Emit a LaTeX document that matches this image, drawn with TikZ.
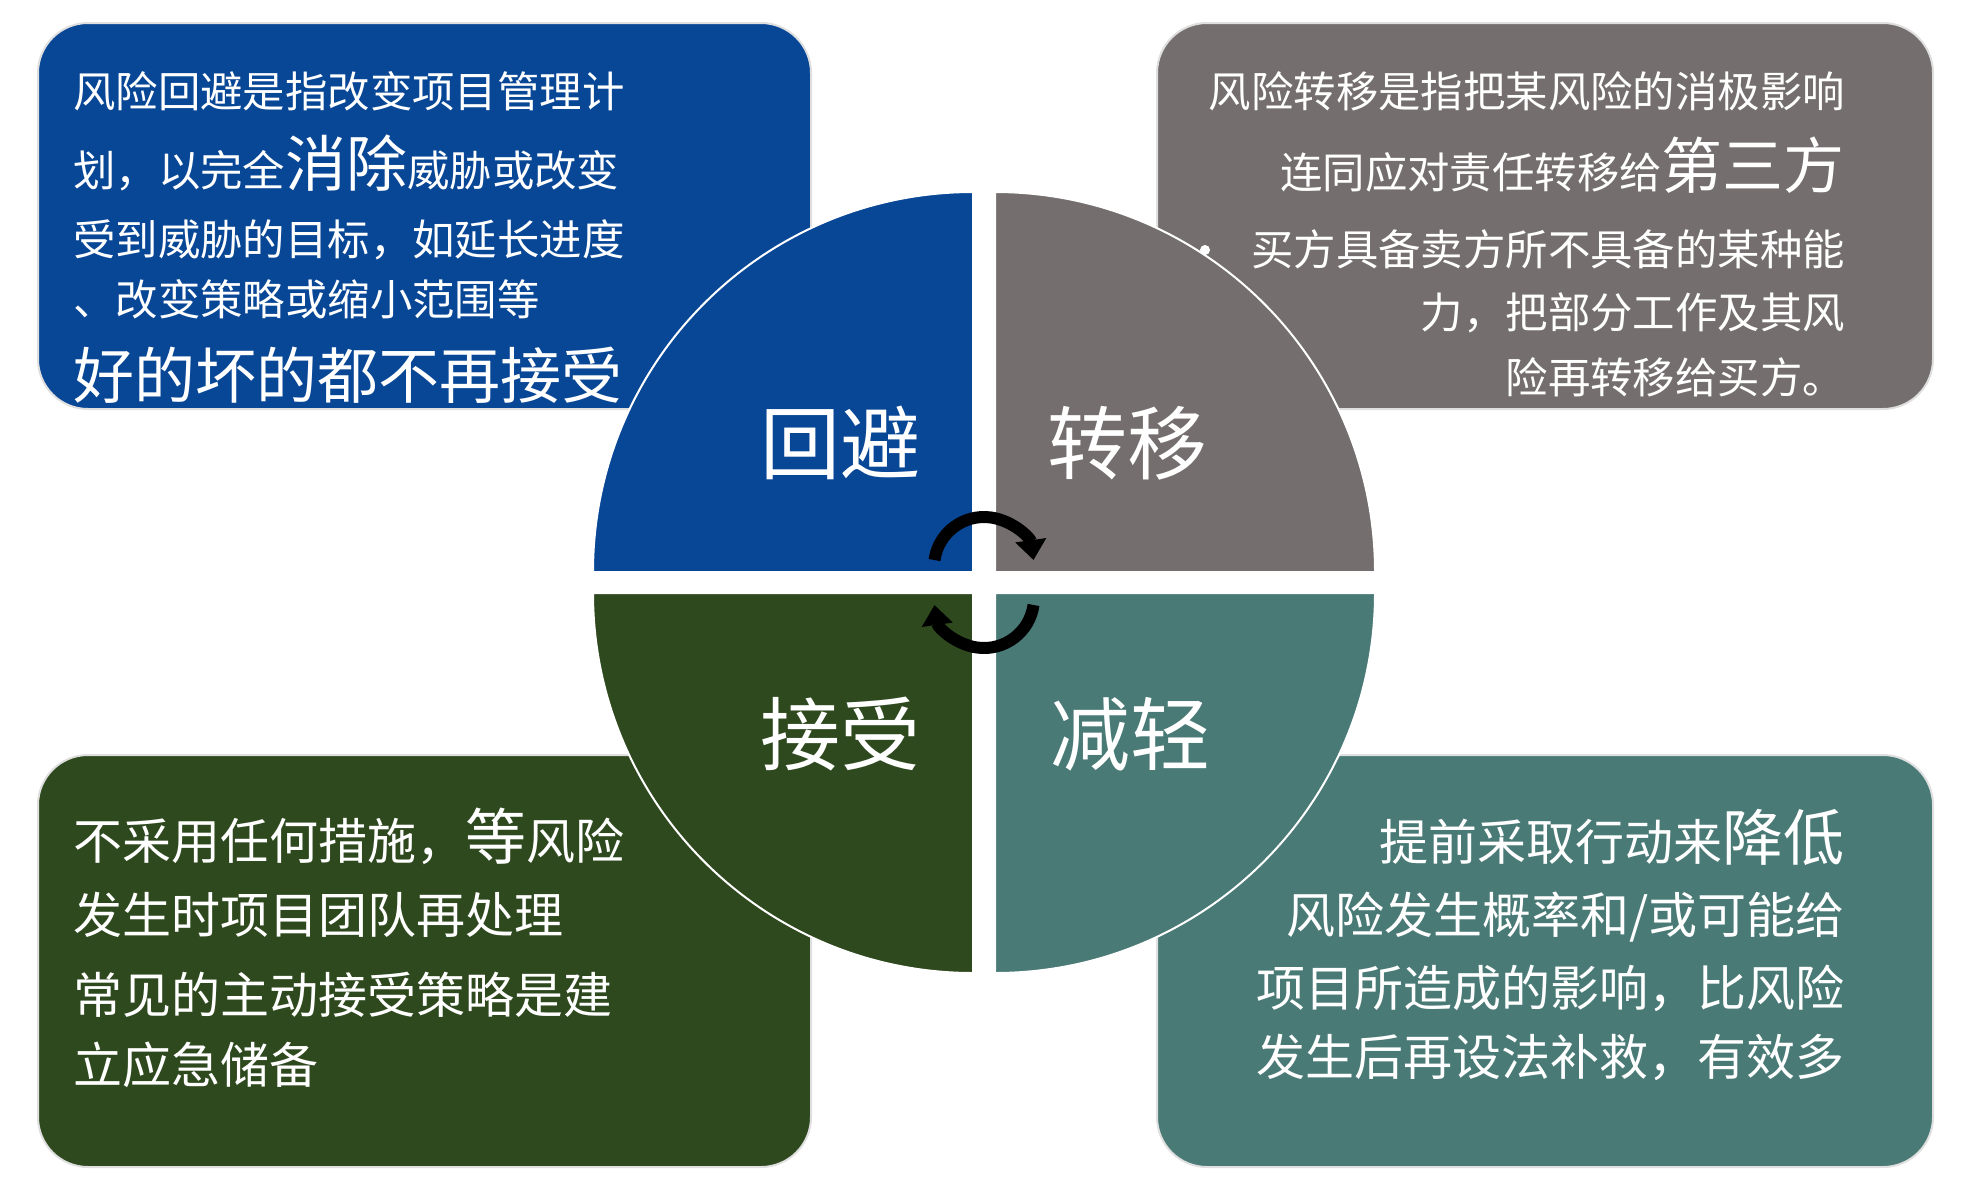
\documentclass[tikz,border=0pt]{standalone}
\usepackage{fontspec}
\setmainfont{Noto Sans CJK SC}
\usepackage{tikz}
\usetikzlibrary{arrows.meta}
\definecolor{avd}{RGB}{8,70,150}
\definecolor{trf}{RGB}{116,110,110}
\definecolor{acc}{RGB}{47,73,31}
\definecolor{mit}{RGB}{73,122,118}
\newcommand\szn{\fontsize{42.4}{50}\selectfont}
\newcommand\szm{\fontsize{49}{58}\selectfont}
\newcommand\szb{\fontsize{61}{70}\selectfont}
\newcommand\szq{\fontsize{80}{90}\selectfont}

\begin{document}
\begin{tikzpicture}[x=1pt,y=-1pt,
    box/.style={rounded corners=50pt,draw=gray!25,line width=2pt},
    quad/.style={draw=white,line width=2pt},
    ln/.style={inner sep=0pt,text=white},
    lbl/.style={inner sep=0pt,text=white,font=\szq},
    cyc/.style={line width=12pt,-{Triangle[length=20pt,width=30pt]}}]
  \useasboundingbox (0,0) rectangle (1972,1192);
  % four text boxes
  \path[box,fill=avd] (38,23) rectangle (811,409);
  \path[box,fill=trf] (1157,23) rectangle (1933,409);
  \path[box,fill=acc] (38,755) rectangle (811,1167);
  \path[box,fill=mit] (1157,755) rectangle (1933,1167);
  % avoid
  \node[ln,anchor=base west] (av1) at (73,107) {\szn 风险回避是指改变项目管理计};
  \node[ln,anchor=base west] (av2) at (73,186) {\szn 划，以完全{\szb 消除}威胁或改变};
  \node[ln,anchor=base west] (av3) at (73,255) {\szn 受到威胁的目标，如延长进度};
  \node[ln,anchor=base west] (av4) at (73,315) {\szn 、改变策略或缩小范围等};
  \node[ln,anchor=base west] (av5) at (73,398) {\szb 好的坏的都不再接受};
  % transfer
  \node[ln,anchor=base east] (tr1) at (1845,107) {\szn 风险转移是指把某风险的消极影响};
  \node[ln,anchor=base east] (tr2) at (1845,188) {\szn 连同应对责任转移给{\szb 第三方}};
  \node[ln,anchor=base east] (tr3) at (1845,265) {\szn 买方具备卖方所不具备的某种能};
  \node[ln,anchor=base east] (tr4) at (1845,328) {\szn 力，把部分工作及其风};
  \node[ln,anchor=base east] (tr5) at (1845,393) {\szn 险再转移给买方。};
  \fill[white] (1205,250) circle (5);
  % accept
  \node[ln,anchor=base west] (ac1) at (73,859) {\szm 不采用任何措施，{\szb 等}风险};
  \node[ln,anchor=base west] (ac2) at (73,933) {\szm 发生时项目团队再处理};
  \node[ln,anchor=base west] (ac3) at (73,1013) {\szm 常见的主动接受策略是建};
  \node[ln,anchor=base west] (ac4) at (73,1083) {\szm 立应急储备};
  % mitigate
  \node[ln,anchor=base east] (mi1) at (1845,860) {\szm 提前采取行动来{\szb 降低}};
  \node[ln,anchor=base east] (mi2) at (1845,933) {\szm 风险发生概率和/或可能给};
  \node[ln,anchor=base east] (mi3) at (1845,1006) {\szm 项目所造成的影响，比风险};
  \node[ln,anchor=base east] (mi4) at (1845,1075) {\szm 发生后再设法补救，有效多};
  % circle quarters
  \path[quad,fill=avd] (973,572) -- ++(-380,0) arc[start angle=180,end angle=270,radius=380] -- cycle;
  \path[quad,fill=trf] (995,572) -- ++(0,-380) arc[start angle=270,end angle=360,radius=380] -- cycle;
  \path[quad,fill=acc] (973,593) -- ++(-380,0) arc[start angle=180,end angle=90,radius=380] -- cycle;
  \path[quad,fill=mit] (995,593) -- ++(380,0) arc[start angle=0,end angle=90,radius=380] -- cycle;
  \node[lbl] (qav) at (840,443) {回避};
  \node[lbl] (qtr) at (1127,443) {转移};
  \node[lbl] (qac) at (840,734) {接受};
  \node[lbl] (qmi) at (1130,734) {减轻};
  % cycle arrows
  \draw[cyc] (984,567) ++(188:50) arc[start angle=188,end angle=352,radius=50];
  \draw[cyc] (984,598) ++(8:50) arc[start angle=8,end angle=172,radius=50];
\end{tikzpicture}
\end{document}
